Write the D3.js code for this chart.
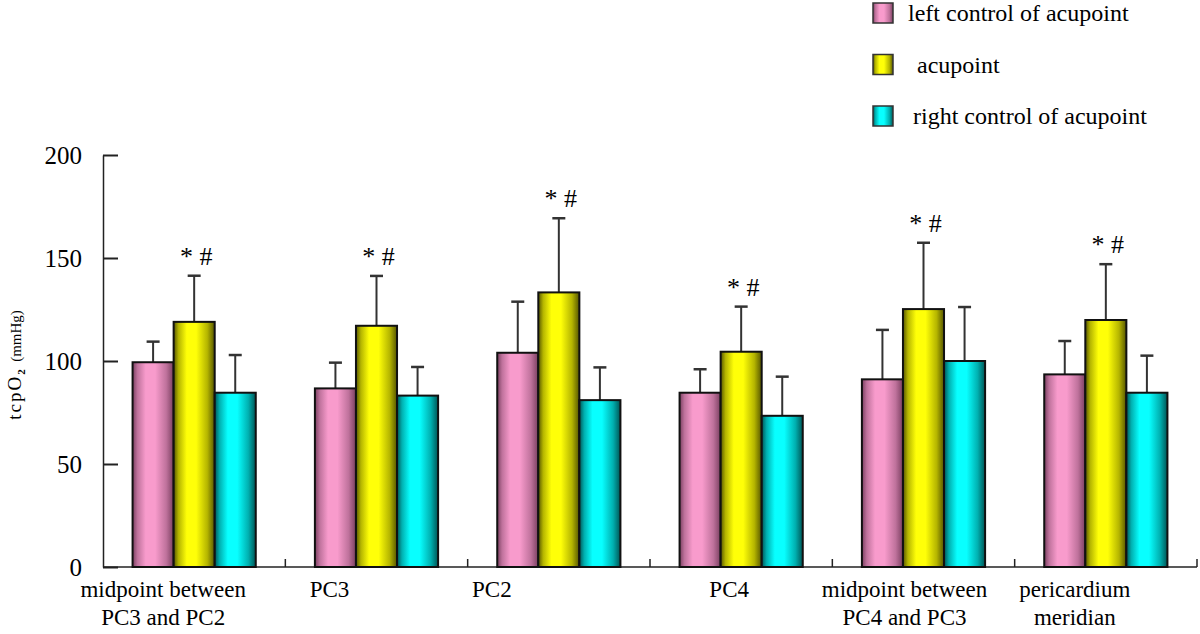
<!DOCTYPE html>
<html>
<head>
<meta charset="utf-8">
<script src="https://cdn.jsdelivr.net/npm/d3@7/dist/d3.min.js"></script>
<style>
    body { margin: 0; background: #fff; }
    text { font-family: "Liberation Serif", "DejaVu Serif", "Times New Roman", serif; fill: #000; }
</style>
</head>
<body>
<div id="chart"></div>
<script>
const categories = [
    ["midpoint between", "PC3 and PC2"],
    ["PC3"],
    ["PC2"],
    ["PC4"],
    ["midpoint between", "PC4 and PC3"],
    ["pericardium", "meridian"],
]
const seriesNames = ["left control of acupoint", " acupoint", "right control of acupoint"]
const leftControl = [99.4, 86.7, 104, 84.6, 91.1, 93.5]
const acupoint = [119, 117.1, 133.3, 104.5, 125.2, 119.9]
const rightControl = [84.6, 83.2, 81, 73.4, 100, 84.6]
const leftSD = [10, 12.5, 24.8, 11.4, 24, 16.2]
const acupointSD = [22.4, 24.2, 36, 21.9, 32.2, 27.1]
const rightSD = [18.3, 13.9, 15.9, 19, 26.2, 18]
const markers = ["* #", "* #", "* #", "* #", "* #", "* #"]
const yTicks = [0, 50, 100, 150, 200]

const width = 1200
const height = 634
const plot = { left: 103, right: 1197, top: 155, bottom: 567 }
// category labels in the source sit left of the group centres
const labelShift = [-31, -47, -67, -12, -19, -31]

const seriesStyle = [
    { dark: "#7a3f60", mid: "#bf729c", light: "#f89bcc" },
    { dark: "#555500", mid: "#b5b500", light: "#ffff08" },
    { dark: "#005555", mid: "#00b0b0", light: "#08ffff" },
]

const values = [leftControl, acupoint, rightControl]
const sds = [leftSD, acupointSD, rightSD]

const rows = categories.map((cat, i) => ({
    i,
    cat,
    bars: values.map((vals, s) => ({ s, i, value: vals[i], sd: sds[s][i] })),
}))

const svg = d3.select("#chart").append("svg").attr("width", width).attr("height", height)
    .attr("font-family", "Liberation Serif, DejaVu Serif, serif")

const defs = svg.append("defs")
seriesStyle.forEach((st, s) => {
    const g = defs.append("linearGradient").attr("id", `grad${s}`).attr("x1", 0).attr("x2", 1).attr("y1", 0).attr("y2", 0)
    ;[
        [0, st.dark],
        [0.12, st.mid],
        [0.32, st.light],
        [0.55, st.light],
        [0.82, st.mid],
        [1, st.dark],
    ].forEach(([o, c]) => g.append("stop").attr("offset", o).attr("stop-color", c))
})

const x0 = d3.scaleBand().domain(d3.range(categories.length)).range([plot.left, plot.right]).paddingInner(0).paddingOuter(0)
const x1 = d3.scaleBand().domain(d3.range(seriesNames.length)).range([0, x0.bandwidth()]).paddingInner(0).paddingOuter(0.72)
const y = d3.scaleLinear().domain([0, 200]).range([plot.bottom, plot.top])

// --- Axes ---
const yAxis = d3.axisLeft(y).tickValues(yTicks).tickSizeInner(-15).tickSizeOuter(0).tickPadding(21)
const yG = svg.append("g").attr("transform", `translate(${plot.left},0)`).call(yAxis)
yG.attr("font-family", null)
yG.select(".domain").attr("stroke", "#222").attr("stroke-width", 1.5)
yG.selectAll(".tick line").attr("stroke", "#222").attr("stroke-width", 2)
yG.selectAll(".tick text").attr("font-size", 25).attr("fill", "#000")

svg.append("line")
    .attr("x1", plot.left).attr("x2", plot.right)
    .attr("y1", plot.bottom).attr("y2", plot.bottom)
    .attr("stroke", "#222").attr("stroke-width", 1.5)

const boundaries = d3.range(categories.length + 1).map((i) => (i < categories.length ? x0(i) : plot.right))
svg.selectAll(".xtick").data(boundaries.slice(1)).enter().append("line")
    .attr("x1", (d) => d).attr("x2", (d) => d)
    .attr("y1", plot.bottom).attr("y2", plot.bottom - 8)
    .attr("stroke", "#222").attr("stroke-width", 1.5)

// --- Bars ---
const groups = svg.selectAll(".grp").data(rows).enter().append("g")
    .attr("transform", (d) => `translate(${x0(d.i)},0)`)

groups.selectAll(".err").data((d) => d.bars).enter().append("g").each(function (b) {
    const g = d3.select(this)
    const cx = x1(b.s) + x1.bandwidth() / 2
    g.append("line").attr("x1", cx).attr("x2", cx).attr("y1", y(b.value)).attr("y2", y(b.value + b.sd))
        .attr("stroke", "#333").attr("stroke-width", 2)
    g.append("line").attr("x1", cx - 6.5).attr("x2", cx + 6.5).attr("y1", y(b.value + b.sd)).attr("y2", y(b.value + b.sd))
        .attr("stroke", "#333").attr("stroke-width", 2.5)
})

groups.selectAll(".bar").data((d) => d.bars).enter().append("rect")
    .attr("x", (b) => x1(b.s))
    .attr("width", x1.bandwidth())
    .attr("y", (b) => y(b.value))
    .attr("height", (b) => y(0) - y(b.value))
    .attr("fill", (b) => `url(#grad${b.s})`)
    .attr("stroke", "#111")
    .attr("stroke-width", 2)

groups.append("text")
    .attr("x", x1(1) + x1.bandwidth() / 2 + 2)
    .attr("y", (d) => y(d.bars[1].value + d.bars[1].sd) - 11)
    .attr("text-anchor", "middle")
    .attr("font-size", 26)
    .text((d) => markers[d.i])

// --- Category labels ---
const catText = svg.selectAll(".cat").data(rows).enter().append("text")
    .attr("text-anchor", "middle")
    .attr("font-size", 23)
    .attr("transform", (d) => `translate(${x0(d.i) + x0.bandwidth() / 2 + labelShift[d.i]},597)`)
catText.selectAll("tspan").data((d) => d.cat).enter().append("tspan")
    .attr("x", 0).attr("dy", (t, k) => (k === 0 ? 0 : 28)).text((t) => t)

// --- Y label ---
const yl = svg.append("text").attr("transform", "translate(21,365) rotate(-90)").attr("text-anchor", "middle")
yl.append("tspan").attr("font-size", 19).attr("letter-spacing", 2).text("tcpO")
yl.append("tspan").attr("font-size", 11).attr("font-weight", "bold").attr("dy", 4).text("2")
yl.append("tspan").attr("font-size", 15).attr("dy", -4).text("\u00a0\u00a0(mmHg)")

// --- Legend ---
const legend = svg.selectAll(".leg").data(seriesNames).enter().append("g")
    .attr("transform", (d, s) => `translate(873,${3 + s * 51.5})`)
legend.append("rect").attr("width", 20).attr("height", 20)
    .attr("fill", (d, s) => `url(#grad${s})`).attr("stroke", "#333").attr("stroke-width", 1.5)
legend.append("text").attr("x", (d, s) => [35, 44, 40][s]).attr("y", 18).attr("font-size", 24)
    .text((d) => d.trim())
</script>
</body>
</html>
